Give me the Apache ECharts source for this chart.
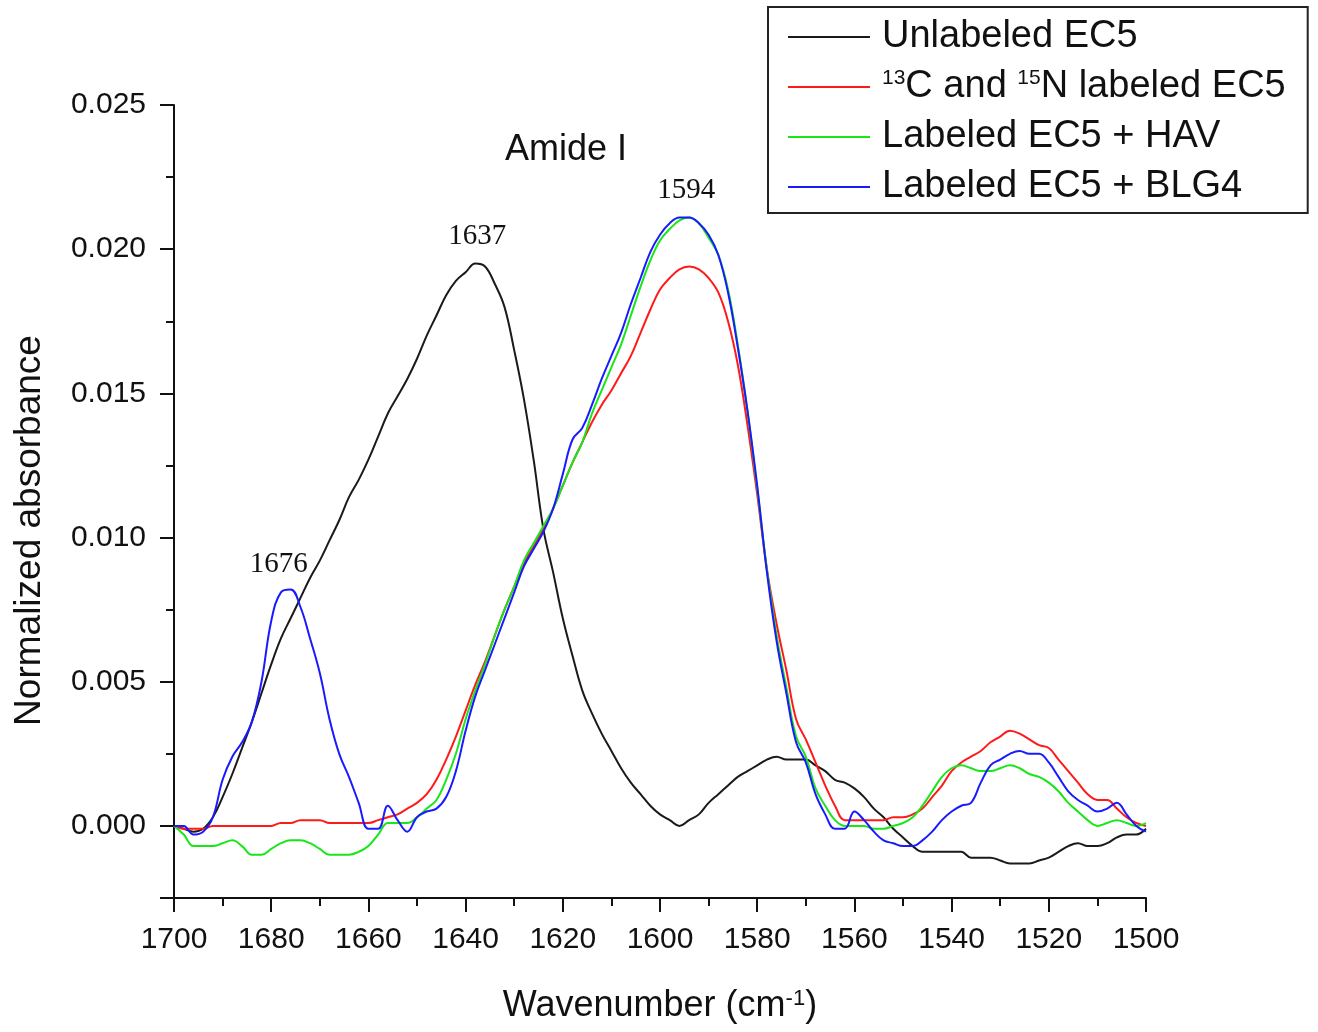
<!DOCTYPE html>
<html>
<head>
<meta charset="utf-8">
<script src="https://cdn.jsdelivr.net/npm/echarts@6/dist/echarts.min.js"></script>
<style>
  html, body { margin: 0; padding: 0; background: #fff; }
  #chart { width: 1318px; height: 1032px; }
</style>
</head>
<body>
<div id="chart"></div>
<script>
// wavenumbers (cm-1), shared by all four spectra
const wavenumbers = [
  1700, 1698, 1696, 1694, 1692, 1690, 1688, 1686, 1684, 1682,
  1680, 1678, 1676, 1674, 1672, 1670, 1668, 1666, 1664, 1662,
  1660, 1658, 1656, 1654, 1652, 1650, 1648, 1646, 1644, 1642,
  1640, 1638, 1636, 1634, 1632, 1630, 1628, 1626, 1624, 1622,
  1620, 1618, 1616, 1614, 1612, 1610, 1608, 1606, 1604, 1602,
  1600, 1598, 1596, 1594, 1592, 1590, 1588, 1586, 1584, 1582,
  1580, 1578, 1576, 1574, 1572, 1570, 1568, 1566, 1564, 1562,
  1560, 1558, 1556, 1554, 1552, 1550, 1548, 1546, 1544, 1542,
  1540, 1538, 1536, 1534, 1532, 1530, 1528, 1526, 1524, 1522,
  1520, 1518, 1516, 1514, 1512, 1510, 1508, 1506, 1504, 1502,
  1500
];

const unlabeled = [
  0.0000, -0.0001, -0.0002, -0.0001, 0.0003, 0.0010, 0.0018, 0.0027, 0.0036, 0.0046,
  0.0056, 0.0065, 0.0072, 0.0079, 0.0086, 0.0092, 0.0099, 0.0106, 0.0114, 0.0120,
  0.0127, 0.0135, 0.0143, 0.0149, 0.0155, 0.0162, 0.0170, 0.0177, 0.0184, 0.0189,
  0.0192, 0.0195, 0.0194, 0.0188, 0.0180, 0.0165, 0.0148, 0.0127, 0.0103, 0.0088,
  0.0072, 0.0059, 0.0047, 0.0039, 0.0032, 0.0026, 0.0020, 0.0015, 0.0011, 0.0007,
  0.0004, 0.0002, 0.0000, 0.0002, 0.0004, 0.0008, 0.0011, 0.0014, 0.0017, 0.0019,
  0.0021, 0.0023, 0.0024, 0.0023, 0.0023, 0.0023, 0.0021, 0.0019, 0.0016, 0.0015,
  0.0013, 0.0010, 0.0006, 0.0003, -0.0001, -0.0004, -0.0007, -0.0009, -0.0009, -0.0009,
  -0.0009, -0.0009, -0.0011, -0.0011, -0.0011, -0.0012, -0.0013, -0.0013, -0.0013, -0.0012,
  -0.0011, -0.0009, -0.0007, -0.0006, -0.0007, -0.0007, -0.0006, -0.0004, -0.0003, -0.0003,
  -0.0001
];

const labeled = [
  0.0000, -0.0001, -0.0001, -0.0001, 0.0000, 0.0000, 0.0000, 0.0000, 0.0000, 0.0000,
  0.0000, 0.0001, 0.0001, 0.0002, 0.0002, 0.0002, 0.0001, 0.0001, 0.0001, 0.0001,
  0.0001, 0.0002, 0.0003, 0.0004, 0.0006, 0.0008, 0.0011, 0.0016, 0.0023, 0.0031,
  0.0040, 0.0049, 0.0057, 0.0066, 0.0075, 0.0083, 0.0091, 0.0097, 0.0103, 0.0110,
  0.0118, 0.0126, 0.0133, 0.0140, 0.0146, 0.0151, 0.0157, 0.0163, 0.0171, 0.0179,
  0.0186, 0.0190, 0.0193, 0.0194, 0.0193, 0.0190, 0.0185, 0.0175, 0.0160, 0.0139,
  0.0115, 0.0089, 0.0070, 0.0054, 0.0037, 0.0030, 0.0022, 0.0014, 0.0007, 0.0002,
  0.0002, 0.0002, 0.0002, 0.0002, 0.0003, 0.0003, 0.0004, 0.0006, 0.0010, 0.0014,
  0.0019, 0.0022, 0.0024, 0.0026, 0.0029, 0.0031, 0.0033, 0.0032, 0.0030, 0.0028,
  0.0027, 0.0023, 0.0019, 0.0015, 0.0011, 0.0009, 0.0009, 0.0006, 0.0003, 0.0001,
  0.0000
];

const withHAV = [
  0.0000, -0.0003, -0.0007, -0.0007, -0.0007, -0.0006, -0.0005, -0.0007, -0.0010, -0.0010,
  -0.0008, -0.0006, -0.0005, -0.0005, -0.0006, -0.0008, -0.0010, -0.0010, -0.0010, -0.0009,
  -0.0007, -0.0003, 0.0001, 0.0001, 0.0001, 0.0003, 0.0006, 0.0009, 0.0016, 0.0025,
  0.0037, 0.0047, 0.0056, 0.0066, 0.0075, 0.0083, 0.0092, 0.0098, 0.0104, 0.0110,
  0.0118, 0.0126, 0.0133, 0.0143, 0.0151, 0.0159, 0.0167, 0.0177, 0.0187, 0.0196,
  0.0203, 0.0207, 0.0210, 0.0211, 0.0209, 0.0204, 0.0198, 0.0186, 0.0167, 0.0144,
  0.0117, 0.0089, 0.0066, 0.0048, 0.0031, 0.0024, 0.0013, 0.0007, 0.0002, 0.0000,
  0.0000, 0.0000, -0.0001, -0.0001, 0.0000, 0.0001, 0.0003, 0.0007, 0.0012, 0.0017,
  0.0020, 0.0021, 0.0020, 0.0019, 0.0019, 0.0020, 0.0021, 0.0020, 0.0018, 0.0017,
  0.0015, 0.0012, 0.0008, 0.0005, 0.0002, 0.0000, 0.0001, 0.0002, 0.0001, 0.0000,
  0.0001
];

const withBLG4 = [
  0.0000, 0.0000, -0.0003, -0.0002, 0.0003, 0.0016, 0.0024, 0.0029, 0.0036, 0.0050,
  0.0071, 0.0081, 0.0082, 0.0076, 0.0065, 0.0053, 0.0037, 0.0025, 0.0017, 0.0008,
  -0.0001, -0.0001, 0.0007, 0.0002, -0.0002, 0.0003, 0.0005, 0.0006, 0.0010, 0.0019,
  0.0033, 0.0045, 0.0054, 0.0063, 0.0072, 0.0081, 0.0090, 0.0096, 0.0102, 0.0110,
  0.0122, 0.0134, 0.0138, 0.0146, 0.0155, 0.0163, 0.0171, 0.0181, 0.0190, 0.0199,
  0.0205, 0.0209, 0.0211, 0.0211, 0.0209, 0.0205, 0.0198, 0.0185, 0.0166, 0.0144,
  0.0118, 0.0088, 0.0064, 0.0046, 0.0029, 0.0022, 0.0011, 0.0004, -0.0001, -0.0001,
  0.0005, 0.0002, -0.0002, -0.0005, -0.0006, -0.0007, -0.0007, -0.0005, -0.0002, 0.0002,
  0.0005, 0.0007, 0.0008, 0.0015, 0.0021, 0.0023, 0.0025, 0.0026, 0.0025, 0.0025,
  0.0022, 0.0017, 0.0012, 0.0009, 0.0007, 0.0005, 0.0006, 0.0008, 0.0004, 0.0000,
  -0.0002
];

const seriesNames = [
  "Unlabeled EC5",
  "13C and 15N labeled EC5",
  "Labeled EC5 + HAV",
  "Labeled EC5 + BLG4"
];
const seriesColors = ["#1a1a1a", "#ff1a1a", "#19e619", "#1a1aff"];

// peak annotations: wavenumber and which spectrum it sits on
const peakLabels = [1676, 1637, 1594];
const peakOnSeries = [3, 0, 3];

const xTicks = [1700, 1680, 1660, 1640, 1620, 1600, 1580, 1560, 1540, 1520, 1500];

const allValues = [unlabeled, labeled, withHAV, withBLG4];

function pairs(vals) {
  return wavenumbers.map((w, i) => [w, vals[i]]);
}

// highest reading of a spectrum within 2 cm-1 of a peak position
function peakHeight(vals, p) {
  let best = -Infinity;
  wavenumbers.forEach((w, i) => {
    if (Math.abs(w - p) <= 2 && vals[i] > best) best = vals[i];
  });
  return best;
}

const chart = echarts.init(document.getElementById("chart"));

const baseFont = "'Liberation Sans', Arial, sans-serif";
const serifFont = "'Liberation Serif', 'Times New Roman', serif";

const series = allValues.map((vals, k) => {
  const s = {
    name: seriesNames[k],
    type: "line",
    data: pairs(vals),
    showSymbol: false,
    symbol: "none",
    smooth: 0.4,
    z: 2 + k,
    lineStyle: { color: seriesColors[k], width: 2 },
    itemStyle: { color: seriesColors[k] },
  };
  const marks = [];
  peakLabels.forEach((p, j) => {
    if (peakOnSeries[j] === k) {
      const m = { name: String(p), coord: [p, peakHeight(vals, p)] };
      // the 1676 label sits a little left of its peak in the original
      if (p === 1676) m.label = { offset: [-12, -25] };
      marks.push(m);
    }
  });
  if (marks.length) {
    s.markPoint = {
      symbol: "circle",
      symbolSize: 0,
      silent: true,
      data: marks,
      label: {
        show: true,
        position: "inside",
        offset: [-3, -27],
        formatter: "{b}",
        color: "#111",
        fontFamily: serifFont,
        fontSize: 29,
      },
    };
  }
  return s;
});

const option = {
  backgroundColor: "#fff",
  animation: false,
  grid: { left: 174, right: 172, top: 105, bottom: 134 },
  legend: {
    orient: "vertical",
    left: 768,
    top: 7,
    padding: [11, 22, 7, 20],
    itemGap: 12,
    itemWidth: 82,
    itemHeight: 2,
    icon: "rect",
    borderColor: "#222",
    borderWidth: 2,
    data: seriesNames,
    formatter: function (name) {
      if (name === seriesNames[1]) {
        return "{sup|13}C and {sup|15}N labeled EC5";
      }
      return name;
    },
    textStyle: {
      fontFamily: baseFont,
      fontSize: 38,
      lineHeight: 38,
      color: "#111",
      padding: [0, 0, 0, 7],
      rich: {
        sup: { fontSize: 21, fontFamily: baseFont, color: "#111", verticalAlign: "top", lineHeight: 38 },
      },
    },
  },
  xAxis: {
    type: "value",
    inverse: true,
    min: 1500,
    max: 1700,
    interval: 20,
    name: "Wavenumber (cm{sup|-1})",
    nameLocation: "middle",
    nameGap: 90,
    nameTextStyle: {
      fontFamily: baseFont,
      fontSize: 36,
      color: "#111",
      rich: {
        sup: { fontSize: 22, fontFamily: baseFont, color: "#111", verticalAlign: "top", lineHeight: 36 },
      },
    },
    axisLine: { show: true, onZero: false, lineStyle: { color: "#111", width: 2 } },
    axisTick: { show: true, inside: false, length: 14, lineStyle: { color: "#111", width: 2 } },
    minorTick: { show: true, splitNumber: 2, length: 8, lineStyle: { color: "#111", width: 2 } },
    axisLabel: {
      margin: 27,
      fontFamily: baseFont,
      fontSize: 30,
      color: "#111",
      formatter: (v) => (xTicks.indexOf(v) >= 0 ? String(v) : ""),
    },
    splitLine: { show: false },
  },
  yAxis: {
    type: "value",
    min: -0.0025,
    max: 0.025,
    splitNumber: 5,
    name: "Normalized absorbance",
    nameLocation: "middle",
    nameGap: 126,
    nameTextStyle: {
      fontFamily: baseFont,
      fontSize: 37,
      color: "#111",
      padding: [0, 58, 0, 0],
    },
    axisLine: { show: true, onZero: false, lineStyle: { color: "#111", width: 2 } },
    axisTick: { show: true, inside: false, length: 14, lineStyle: { color: "#111", width: 2 } },
    minorTick: { show: true, splitNumber: 2, length: 8, lineStyle: { color: "#111", width: 2 } },
    axisLabel: {
      margin: 28,
      fontFamily: baseFont,
      fontSize: 30,
      color: "#111",
      formatter: function (v) {
        const k = Math.round(v * 1000);
        if (Math.abs(v * 1000 - k) > 1e-6 || k % 5 !== 0) return "";
        return v.toFixed(3);
      },
    },
    splitLine: { show: false },
  },
  graphic: [
    {
      type: "text",
      left: 505,
      top: 132,
      style: {
        text: "Amide I",
        font: "36px " + baseFont,
        fill: "#111",
      },
    },
  ],
  series: series,
};

chart.setOption(option);
</script>
</body>
</html>
